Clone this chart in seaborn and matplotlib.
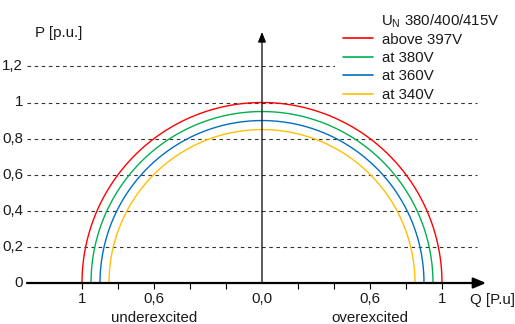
import numpy as np
import pandas as pd
import matplotlib
matplotlib.use("Agg")
import matplotlib.pyplot as plt
from matplotlib.patches import Rectangle
import seaborn as sns

# ---- data ----
radii = [1.00, 0.95, 0.90, 0.85]                      # P/Q capability radius [p.u.]
series_labels = ["above 397V", "at 380V", "at 360V", "at 340V"]
series_colors = ["#FF0000", "#00B050", "#0070C0", "#FFC000"]
legend_title = r"U$_\mathregular{N}$ 380/400/415V"

p_ticks = [0.0, 0.2, 0.4, 0.6, 0.8, 1.0, 1.2]
p_tick_labels = ["0", "0,2", "0,4", "0,6", "0,8", "1", "1,2"]
q_ticks = [-1.0, -0.8, -0.6, -0.4, -0.2, 0.0, 0.2, 0.4, 0.6, 0.8, 1.0]
q_label_pos = [-1.0, -0.6, 0.0, 0.6, 1.0]
q_labels = ["1", "0,6", "0,0", "0,6", "1"]

# ---- build curves (semicircles of the given radii) ----
theta = np.linspace(0, np.pi, 361)
frames = []
for r, lab in zip(radii, series_labels):
    frames.append(pd.DataFrame({"Q": r * np.cos(theta), "P": r * np.sin(theta), "series": lab}))
df = pd.concat(frames, ignore_index=True)

sns.set_theme(style="white")
plt.rcParams["font.family"] = ["Liberation Sans", "DejaVu Sans"]
plt.rcParams["mathtext.fontset"] = "custom"
plt.rcParams["mathtext.rm"] = "Liberation Sans"

W, H = 515, 324
fig = plt.figure(figsize=(W / 100, H / 100), dpi=100)
ax = fig.add_axes([0, 0, 1, 1])
sx, sy = 180.0, 180.5
cx, cy = 262.0, 283.0
ax.set_xlim(-cx / sx, (W - cx) / sx)
ax.set_ylim(-(H - cy) / sy, cy / sy)
ax.axis("off")

def px(x):
    return (x - cx) / sx

def py(y):
    return (cy - y) / sy

FS = 10.8
TC = "#1a1a1a"

# dashed horizontal grid
ax.hlines([t for t in p_ticks if t > 0], px(27), px(477), colors="#333333",
          linestyles=(0, (3.2, 3.2)), linewidth=0.8, zorder=1)

# curves
sns.lineplot(data=df, x="Q", y="P", hue="series", palette=series_colors,
             hue_order=series_labels, sort=False, estimator=None,
             linewidth=1.0, ax=ax, zorder=3)

# axes with arrows
ax.annotate("", xy=(px(486), 0), xytext=(px(27), 0),
            arrowprops=dict(arrowstyle="-|>,head_length=0.75,head_width=0.32",
                            lw=1.6, color="black", shrinkA=0, shrinkB=0,
                            mutation_scale=10), zorder=4)
ax.annotate("", xy=(0, py(32)), xytext=(0, 0),
            arrowprops=dict(arrowstyle="-|>,head_length=0.6,head_width=0.24",
                            lw=0.9, color="black", shrinkA=0, shrinkB=0,
                            mutation_scale=10), zorder=4)

# x ticks
ax.vlines([t for t in q_ticks if t != 0], py(283), py(289), colors="black", linewidth=0.8, zorder=4)

# tick labels
for t, lab in zip(p_ticks, p_tick_labels):
    ax.text(px(23), t, lab, ha="right", va="center", fontsize=FS, color=TC)
for t, lab in zip(q_label_pos, q_labels):
    ax.text(t, py(299), lab, ha="center", va="center", fontsize=FS, color=TC)
ax.text(-0.6, py(318), "underexcited", ha="center", va="center", fontsize=FS, color=TC)
ax.text(0.6, py(318), "overexcited", ha="center", va="center", fontsize=FS, color=TC)
ax.text(px(35), py(33), "P [p.u.]", ha="left", va="center", fontsize=FS, color=TC)
ax.text(px(470), py(300), "Q [P.u]", ha="left", va="center", fontsize=FS, color=TC)

# legend area background (white box like the reference)
ax.add_patch(Rectangle((335 / W, 1 - 99 / H), (505 - 335) / W, (99 - 8) / H,
                       transform=fig.transFigure, facecolor="white",
                       edgecolor="none", zorder=2))

# legend
leg = ax.legend(loc="upper left", bbox_to_anchor=(338 / W, 1 - 28 / H),
                bbox_transform=fig.transFigure, frameon=False, fontsize=FS,
                handlelength=2.0, handletextpad=0.6, labelspacing=0.3,
                borderpad=0.3, borderaxespad=0)
leg.set_zorder(5)
for line in leg.get_lines():
    line.set_linewidth(1.2)
for txt in leg.get_texts():
    txt.set_color(TC)
ax.text(px(381), py(21), legend_title, ha="left", va="center", fontsize=FS, color=TC, zorder=6)

fig.savefig("out.png", dpi=100)
